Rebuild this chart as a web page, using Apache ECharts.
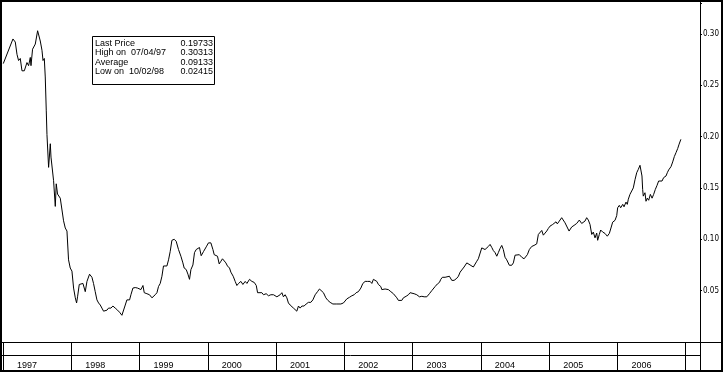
<!DOCTYPE html>
<html><head><meta charset="utf-8">
<script src="https://cdn.jsdelivr.net/npm/echarts@6/dist/echarts.min.js"></script>
<style>html,body{margin:0;padding:0;background:#fff}#c{width:723px;height:372px}</style>
</head><body><div id="c"></div>
<script>
// decimal-year dates
const dates = [
1997.004,1997.146,1997.180,1997.205,1997.228,1997.253,1997.278,1997.312,1997.351,1997.375,
1997.400,1997.410,1997.433,1997.473,1997.507,1997.546,1997.571,1997.586,1997.605,1997.619,
1997.634,1997.644,1997.668,1997.693,1997.703,1997.741,1997.766,1997.780,1997.799,1997.839,
1997.864,1997.887,1997.912,1997.937,1997.960,1997.985,1998.010,1998.034,1998.059,1998.078,
1998.092,1998.117,1998.142,1998.171,1998.205,1998.230,1998.268,1998.303,1998.326,1998.351,
1998.376,1998.400,1998.425,1998.449,1998.473,1998.523,1998.546,1998.581,1998.610,1998.644,
1998.678,1998.707,1998.742,1998.757,1998.791,1998.815,1998.854,1998.874,1998.903,1998.937,
1998.971,1999.000,1999.020,1999.050,1999.069,1999.108,1999.146,1999.182,1999.205,1999.230,
1999.255,1999.278,1999.303,1999.328,1999.351,1999.376,1999.401,1999.425,1999.449,1999.474,
1999.508,1999.537,1999.571,1999.606,1999.635,1999.654,1999.684,1999.709,1999.732,1999.753,
1999.782,1999.805,1999.830,1999.855,1999.878,1999.903,1999.937,1999.977,2000.010,2000.045,
2000.075,2000.094,2000.123,2000.142,2000.167,2000.192,2000.215,2000.240,2000.265,2000.288,
2000.318,2000.338,2000.372,2000.401,2000.426,2000.450,2000.485,2000.514,2000.548,2000.573,
2000.611,2000.646,2000.680,2000.710,2000.729,2000.757,2000.792,2000.816,2000.855,2000.889,
2000.924,2000.962,2000.987,2001.012,2001.035,2001.060,2001.085,2001.108,2001.133,2001.158,
2001.181,2001.206,2001.231,2001.255,2001.279,2001.304,2001.328,2001.353,2001.378,2001.411,
2001.441,2001.474,2001.509,2001.539,2001.573,2001.607,2001.636,2001.661,2001.694,2001.729,
2001.759,2001.792,2001.832,2001.890,2001.949,2001.987,2002.012,2002.037,2002.075,2002.110,
2002.144,2002.173,2002.206,2002.242,2002.271,2002.305,2002.338,2002.378,2002.403,2002.426,
2002.451,2002.476,2002.499,2002.534,2002.549,2002.572,2002.597,2002.622,2002.645,2002.681,
2002.719,2002.744,2002.769,2002.792,2002.817,2002.842,2002.865,2002.905,2002.939,2002.963,
2002.988,2003.022,2003.061,2003.100,2003.135,2003.169,2003.208,2003.246,2003.281,2003.305,
2003.330,2003.363,2003.393,2003.413,2003.436,2003.476,2003.501,2003.539,2003.574,2003.608,
2003.647,2003.671,2003.696,2003.720,2003.754,2003.794,2003.817,2003.842,2003.867,2003.890,
2003.915,2003.940,2003.963,2003.988,2004.013,2004.037,2004.061,2004.086,2004.110,2004.135,
2004.160,2004.183,2004.208,2004.233,2004.256,2004.281,2004.306,2004.329,2004.354,2004.379,
2004.403,2004.417,2004.452,2004.476,2004.501,2004.526,2004.564,2004.599,2004.633,2004.662,
2004.681,2004.710,2004.745,2004.779,2004.818,2004.842,2004.867,2004.892,2004.915,2004.940,
2004.965,2004.988,2005.013,2005.052,2005.071,2005.101,2005.120,2005.149,2005.184,2005.208,
2005.233,2005.258,2005.292,2005.331,2005.365,2005.404,2005.442,2005.477,2005.501,2005.525,
2005.550,2005.574,2005.599,2005.624,2005.647,2005.672,2005.697,2005.711,2005.735,2005.755,
2005.785,2005.818,2005.852,2005.882,2005.906,2005.931,2005.965,2005.990,2006.004,2006.028,
2006.048,2006.078,2006.097,2006.126,2006.145,2006.160,2006.184,2006.209,2006.233,2006.258,
2006.283,2006.306,2006.331,2006.345,2006.360,2006.370,2006.379,2006.404,2006.419,2006.438,
2006.458,2006.483,2006.508,2006.531,2006.556,2006.581,2006.604,2006.629,2006.654,2006.677,
2006.712,2006.731,2006.751,2006.785,2006.810,2006.834,2006.859,2006.883,2006.904,2006.930
];
const prices = [
0.271,0.295,0.292,0.280,0.274,0.276,0.264,0.264,0.272,0.269,
0.277,0.269,0.285,0.290,0.303,0.293,0.284,0.274,0.276,0.258,
0.225,0.202,0.170,0.193,0.180,0.157,0.132,0.154,0.144,0.140,
0.139,0.118,0.111,0.108,0.080,0.072,0.069,0.0525,0.043,0.038,
0.044,0.056,0.055,0.057,0.049,0.059,0.066,0.063,0.057,0.049,
0.041,0.038,0.036,0.033,0.030,0.031,0.033,0.033,0.035,0.033,
0.031,0.029,0.026,0.0242,0.036,0.041,0.041,0.046,0.0525,0.053,
0.0525,0.054,0.051,0.055,0.048,0.047,0.046,0.043,0.044,0.046,
0.048,0.054,0.057,0.064,0.074,0.075,0.074,0.080,0.088,0.099,
0.100,0.098,0.090,0.0835,0.077,0.072,0.0705,0.066,0.061,0.0705,
0.075,0.087,0.090,0.0906,0.092,0.084,0.088,0.0926,0.0965,0.0965,
0.090,0.085,0.086,0.0835,0.076,0.0786,0.081,0.080,0.077,0.074,
0.072,0.068,0.064,0.059,0.055,0.057,0.059,0.056,0.059,0.057,
0.061,0.059,0.058,0.055,0.048,0.048,0.048,0.046,0.047,0.045,
0.046,0.046,0.045,0.044,0.0435,0.046,0.048,0.044,0.046,0.043,
0.038,0.036,0.037,0.033,0.0347,0.030,0.035,0.033,0.035,0.035,
0.037,0.0386,0.0386,0.041,0.046,0.049,0.0516,0.050,0.048,0.043,
0.0405,0.0386,0.037,0.037,0.037,0.038,0.0386,0.042,0.0435,0.045,
0.046,0.048,0.049,0.0525,0.057,0.059,0.059,0.059,0.057,0.061,
0.062,0.059,0.056,0.054,0.051,0.050,0.0516,0.0525,0.051,0.049,
0.047,0.046,0.043,0.0405,0.040,0.0405,0.043,0.0445,0.046,0.048,
0.048,0.047,0.046,0.044,0.0445,0.044,0.044,0.047,0.050,0.051,
0.054,0.0565,0.058,0.061,0.063,0.063,0.0617,0.064,0.060,0.060,
0.062,0.064,0.068,0.0695,0.073,0.077,0.077,0.075,0.0747,0.073,
0.0747,0.0786,0.081,0.082,0.0916,0.092,0.090,0.090,0.093,0.095,
0.092,0.089,0.087,0.0835,0.087,0.091,0.094,0.090,0.0825,0.080,
0.0786,0.0747,0.0747,0.077,0.0845,0.086,0.085,0.0825,0.081,0.080,
0.085,0.090,0.093,0.094,0.0955,0.1047,0.106,0.1086,0.104,0.106,
0.108,0.1105,0.1128,0.1144,0.1138,0.117,0.115,0.1177,0.121,0.120,
0.116,0.1154,0.108,0.112,0.1135,0.1154,0.1187,0.1154,0.1135,0.1177,
0.121,0.1187,0.1144,0.1047,0.107,0.1014,0.106,0.099,0.1047,0.109,
0.107,0.1057,0.103,0.1057,0.111,0.1167,0.1184,0.123,0.1307,0.133,
0.1307,0.134,0.1316,0.1362,0.134,0.139,0.1437,0.1453,0.150,0.158,
0.1648,0.168,0.172,0.173,0.1616,0.1486,0.142,0.1453,0.137,0.140,
0.138,0.1437,0.140,0.1437,0.1486,0.1525,0.1567,0.158,0.1567,0.160,
0.1616,0.1648,0.1675,0.1707,0.1753,0.1805,0.1844,0.1883,0.1926,0.1973
];
const yearLabels = ['1997','1998','1999','2000','2001','2002','2003','2004','2005','2006'];
const statLabels = ['Last Price', 'High on  07/04/97', 'Average', 'Low on  10/02/98'];
const statValues = ['0.19733', '0.30313', '0.09133', '0.02415'];

const FONT = '"Liberation Sans", Arial, sans-serif';
const chart = echarts.init(document.getElementById('c'), null, {renderer: 'canvas'});

const statTexts = [];
statLabels.forEach((s, i) => {
  statTexts.push({type: 'text', x: 95, y: 39 + i * 9.4, z: 20, silent: true,
    style: {text: s, font: '9px ' + FONT, fill: '#000', textAlign: 'left', textVerticalAlign: 'top'}});
  statTexts.push({type: 'text', x: 213, y: 39 + i * 9.4, z: 20, silent: true,
    style: {text: statValues[i], font: '9px ' + FONT, fill: '#000', textAlign: 'right', textVerticalAlign: 'top'}});
});

chart.setOption({
  animation: false,
  backgroundColor: '#fff',
  grid: {left: 3, right: 23, top: 3, bottom: 30, containLabel: false},
  xAxis: {
    type: 'value', min: 1997, max: 2007.21, interval: 1,
    axisLine: {show: true, lineStyle: {color: '#000', width: 1}},
    axisTick: {show: true, length: 28, lineStyle: {color: '#000', width: 1}},
    splitLine: {show: false},
    axisLabel: {
      show: true, margin: 19, align: 'left', padding: [0, 0, 0, 14],
      fontSize: 9, fontFamily: FONT, color: '#000',
      showMinLabel: true, showMaxLabel: true, hideOverlap: false,
      formatter: v => {
        const k = Math.round(v - 1997);
        return (Math.abs(v - 1997 - k) < 1e-6 && k >= 0 && k < yearLabels.length) ? yearLabels[k] : '';
      }
    }
  },
  yAxis: {
    type: 'value', position: 'right', min: 0, max: 0.33, interval: 0.05,
    axisLine: {show: true, lineStyle: {color: '#000', width: 1}},
    axisTick: {show: true, length: 2, lineStyle: {color: '#000', width: 1}},
    splitLine: {show: false},
    axisLabel: {
      show: true, margin: 3, fontSize: 8,
      fontFamily: '"Liberation Sans Narrow", "DejaVu Sans Condensed", sans-serif',
      color: '#000',
      formatter: v => (v > 0.001 && v < 0.32) ? v.toFixed(2) : ''
    }
  },
  series: [{
    type: 'line', data: dates.map((d, i) => [d, prices[i]]),
    showSymbol: false, silent: true,
    lineStyle: {color: '#000', width: 1}
  }],
  graphic: [
    {type: 'rect', shape: {x: 1, y: 1, width: 721, height: 370}, style: {fill: 'none', stroke: '#000', lineWidth: 2}, silent: true},
    {type: 'line', shape: {x1: 700.5, y1: 0, x2: 700.5, y2: 371}, style: {stroke: '#000', lineWidth: 1}, silent: true},
    {type: 'line', shape: {x1: 1, y1: 342.5, x2: 722, y2: 342.5}, style: {stroke: '#000', lineWidth: 1}, silent: true},
    {type: 'line', shape: {x1: 1, y1: 355.5, x2: 700, y2: 355.5}, style: {stroke: '#000', lineWidth: 1}, silent: true},
    {type: 'rect', shape: {x: 92.5, y: 36.5, width: 122, height: 48}, style: {fill: '#fff', stroke: '#000', lineWidth: 1}, silent: true, z: 10}
  ].concat(statTexts)
});
</script></body></html>
